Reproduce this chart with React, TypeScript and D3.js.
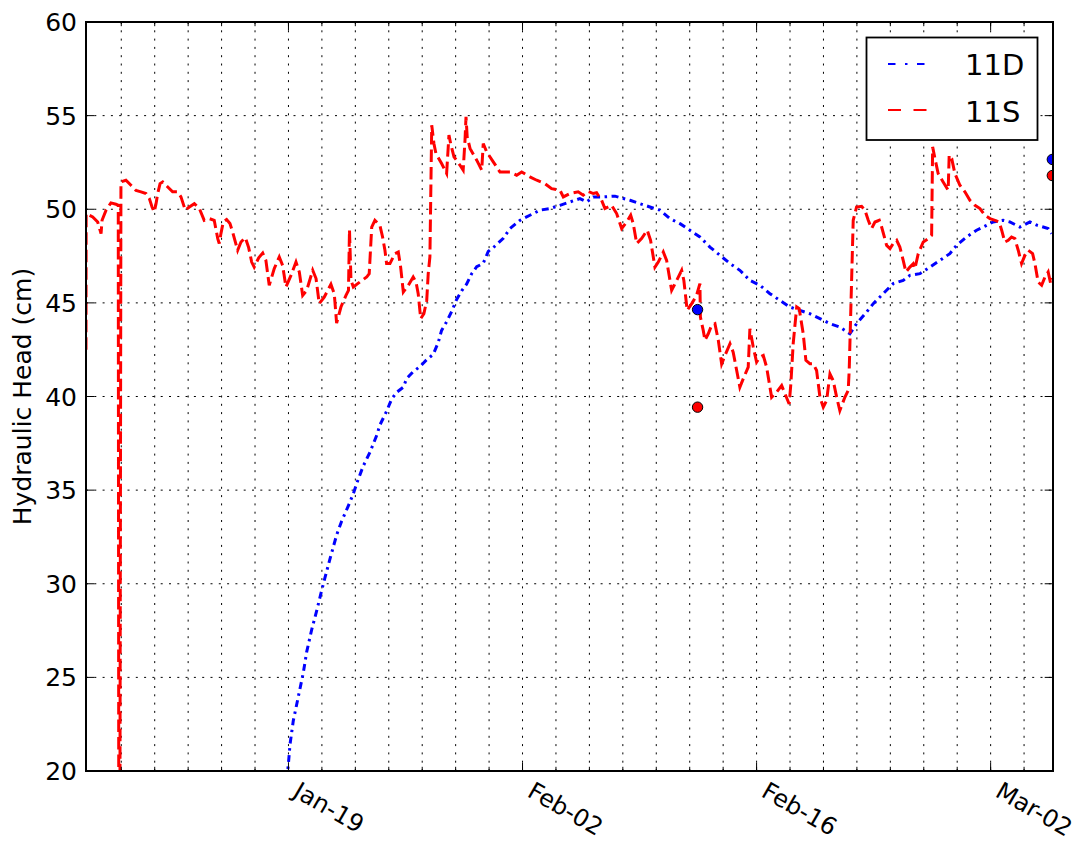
import React from 'react';
import * as d3 from 'd3';

// times are day offsets from Jan 1 (0 = Jan-01), heads in cm
const YEAR = 2015;
const X_START_DAY = 5.89;
const X_END_DAY = 63.73;

const series11D: [number, number][] = [
  [17.88, 19.5], [17.99, 20.3], [18.09, 21.4], [18.29, 22.69], [18.59, 23.97], [18.89, 25.26],
  [19.09, 26.36], [19.39, 27.55], [19.69, 28.56], [19.99, 29.66], [20.18, 30.31], [20.48, 31.32],
  [20.88, 32.6], [21.18, 33.34], [21.58, 34.16], [21.88, 34.81], [22.12, 35.45], [22.47, 36.28],
  [22.87, 37.01], [23.28, 37.93], [23.47, 38.48], [23.87, 39.21], [24.17, 39.86], [24.47, 40.22],
  [24.87, 40.5], [25.07, 40.96], [25.46, 41.33], [25.87, 41.6], [26.27, 41.97], [26.66, 42.25],
  [26.96, 42.89], [27.16, 43.53], [27.46, 43.99], [27.76, 44.54], [28.06, 45.18], [28.36, 45.64],
  [28.66, 46.01], [28.96, 46.56], [29.26, 46.93], [29.65, 47.11], [29.95, 47.75], [30.35, 48.03],
  [30.85, 48.45], [31.25, 48.97], [31.85, 49.41], [32.44, 49.68], [33.04, 49.95], [33.64, 50.04],
  [34.24, 50.21], [34.84, 50.39], [35.43, 50.57], [35.84, 50.39], [36.23, 50.66], [36.83, 50.66],
  [37.53, 50.7], [38.43, 50.48], [39.02, 50.3], [39.62, 50.12], [40.22, 49.95], [40.82, 49.5],
  [41.42, 49.23], [42.01, 48.88], [42.61, 48.52], [43.21, 47.98], [43.81, 47.54], [44.41, 47.1],
  [45.0, 46.74], [45.6, 46.2], [46.2, 45.94], [46.8, 45.49], [47.4, 45.13], [47.99, 44.78],
  [48.59, 44.6], [49.19, 44.42], [49.79, 44.16], [50.39, 43.89], [50.98, 43.71], [51.58, 43.35],
  [51.98, 43.89], [52.58, 44.51], [52.98, 44.96], [53.57, 45.49], [54.17, 46.03], [54.77, 46.2],
  [55.17, 46.47], [55.77, 46.56], [56.37, 46.91], [56.97, 47.27], [57.56, 47.63], [57.96, 48.07],
  [58.56, 48.52], [59.16, 48.88], [59.56, 49.05], [60.15, 49.32], [60.75, 49.41], [61.15, 49.32],
  [61.75, 49.05], [62.35, 49.32], [62.8, 49.14], [63.14, 49.05], [63.44, 48.97], [63.65, 48.7],
];

const series11S: [number, number][] = [
  [5.89, 42.5], [5.9, 49.77], [6.29, 49.59], [6.59, 49.32], [6.79, 48.7], [6.85, 49.41],
  [7.09, 49.95], [7.38, 50.34], [7.68, 50.27], [7.82, 50.21], [7.85, 18], [7.92, 18],
  [7.98, 51.46], [8.28, 51.55], [8.58, 51.28], [8.88, 51.0], [9.18, 50.93], [9.48, 50.84],
  [9.68, 50.57], [9.84, 50.12], [9.97, 49.86], [10.08, 50.3], [10.18, 50.84], [10.32, 51.37],
  [10.48, 51.46], [10.78, 51.19], [11.07, 50.93], [11.37, 50.93], [11.57, 50.66], [11.83, 49.95],
  [12.07, 50.12], [12.37, 50.3], [12.67, 50.04], [12.96, 49.41], [13.26, 49.5], [13.56, 49.41],
  [13.77, 48.43], [13.86, 48.17], [13.96, 48.7], [14.1, 49.32], [14.3, 49.45], [14.5, 49.24],
  [14.66, 48.79], [14.96, 47.81], [15.16, 48.25], [15.42, 48.49], [15.62, 47.95], [15.8, 47.18],
  [15.95, 46.91], [16.22, 47.41], [16.46, 47.66], [16.65, 47.27], [16.85, 45.94], [17.15, 46.83],
  [17.45, 47.45], [17.65, 47.0], [17.85, 45.85], [18.15, 46.47], [18.45, 47.18], [18.65, 46.65],
  [18.85, 45.4], [19.09, 45.67], [19.45, 46.74], [19.65, 46.3], [19.84, 44.96], [20.14, 45.31],
  [20.54, 45.99], [20.74, 45.49], [20.88, 43.92], [21.14, 44.78], [21.44, 45.4], [21.59, 45.67],
  [21.65, 48.9], [21.74, 46.2], [21.88, 45.85], [22.16, 46.04], [22.4, 46.2], [22.68, 46.38],
  [22.83, 46.56], [22.98, 49.05], [23.17, 49.41], [23.47, 49.14], [23.63, 48.52], [23.77, 47.81],
  [23.87, 47.1], [24.07, 47.1], [24.37, 47.63], [24.57, 47.72], [24.71, 46.91], [24.87, 45.58],
  [25.17, 45.94], [25.46, 46.38], [25.63, 46.11], [25.76, 45.49], [25.91, 44.16], [26.1, 44.42],
  [26.27, 45.13], [26.36, 46.56], [26.46, 47.45], [26.57, 54.49], [26.7, 53.51], [26.82, 52.98],
  [27.16, 52.44], [27.46, 51.91], [27.6, 53.96], [27.7, 53.51], [27.9, 52.8], [28.26, 52.35],
  [28.45, 52.09], [28.56, 53.69], [28.62, 54.94], [28.69, 53.87], [28.86, 53.25], [29.26, 52.62],
  [29.56, 52.09], [29.65, 53.51], [29.85, 53.07], [30.25, 52.53], [30.65, 51.99], [31.25, 51.99],
  [31.65, 51.82], [31.95, 51.99], [32.44, 51.73], [32.85, 51.55], [33.34, 51.37], [33.74, 51.1],
  [34.24, 51.02], [34.44, 50.66], [34.84, 50.84], [35.33, 50.93], [35.63, 50.75], [35.93, 50.95],
  [36.23, 50.84], [36.43, 50.88], [36.73, 50.48], [36.93, 50.04], [37.33, 50.21], [37.63, 49.77],
  [37.93, 48.97], [38.23, 49.32], [38.47, 49.68], [38.62, 49.24], [38.83, 48.17], [39.12, 48.43],
  [39.46, 48.88], [39.66, 48.34], [39.92, 46.91], [40.12, 47.18], [40.42, 47.72], [40.62, 47.27],
  [40.92, 45.67], [41.22, 46.2], [41.52, 46.74], [41.65, 46.2], [41.85, 44.6], [42.12, 44.96],
  [42.41, 45.4], [42.61, 46.03], [42.64, 44.24], [42.81, 43.53], [42.91, 43.0], [43.11, 43.35],
  [43.31, 43.8], [43.51, 43.89], [43.71, 43.0], [43.91, 41.74], [44.11, 42.19], [44.41, 42.82],
  [44.6, 42.37], [44.81, 41.39], [45.0, 40.5], [45.24, 41.03], [45.5, 41.57], [45.6, 43.62],
  [45.8, 42.64], [46.0, 41.84], [46.2, 42.1], [46.4, 42.19], [46.6, 41.57], [46.9, 39.96],
  [47.2, 40.23], [47.5, 40.59], [47.7, 40.14], [47.95, 39.6], [48.05, 40.68], [48.19, 42.82],
  [48.4, 44.78], [48.55, 44.69], [48.79, 43.35], [48.95, 41.93], [49.19, 41.75], [49.39, 41.75],
  [49.59, 41.39], [49.79, 39.96], [49.99, 39.43], [50.19, 39.79], [50.39, 41.21], [50.58, 40.86],
  [50.79, 39.96], [50.98, 39.25], [51.28, 39.96], [51.48, 40.32], [51.54, 41.39], [51.78, 49.41],
  [51.98, 50.12], [52.28, 50.16], [52.48, 49.95], [52.68, 49.41], [52.88, 48.97], [53.08, 49.32],
  [53.34, 49.41], [53.48, 49.05], [53.78, 48.07], [53.98, 47.9], [54.17, 48.17], [54.38, 48.34],
  [54.57, 47.98], [54.77, 47.27], [54.93, 46.65], [55.17, 46.91], [55.37, 47.09], [55.47, 46.83],
  [55.67, 47.63], [55.97, 48.25], [56.27, 48.43], [56.47, 48.61], [56.53, 53.33], [56.67, 52.71],
  [56.86, 51.91], [57.16, 51.46], [57.46, 51.02], [57.52, 52.89], [57.67, 52.71], [57.86, 51.91],
  [58.16, 51.28], [58.46, 50.93], [58.76, 50.48], [59.06, 50.21], [59.36, 50.04], [59.66, 49.68],
  [59.96, 49.5], [60.26, 49.41], [60.51, 49.32], [60.66, 48.88], [60.85, 48.25], [61.05, 48.34],
  [61.25, 48.52], [61.45, 48.43], [61.65, 47.81], [61.85, 47.1], [62.05, 47.54], [62.25, 47.81],
  [62.51, 47.63], [62.65, 47.1], [62.84, 46.11], [63.05, 45.94], [63.25, 46.38], [63.44, 46.65],
  [63.59, 46.03], [63.71, 46.31],
];

// manual readings (dots)
const manual11D: [number, number][] = [[42.47, 44.64], [63.69, 52.66]];
const manual11S: [number, number][] = [[42.47, 39.43], [63.69, 51.8]];

const majorTickLabels = ['Jan-19', 'Feb-02', 'Feb-16', 'Mar-02'];
const yTicks = [20, 25, 30, 35, 40, 45, 50, 55, 60];

const toDate = (day: number) => new Date(Date.UTC(YEAR, 0, 1) + day * 86400000);

const W = 1079, H = 844;
const L = 86, R = 1053, T = 22, B = 771;
const FONT = "'DejaVu Sans', sans-serif";

export default function App() {
  const x = d3.scaleUtc().domain([toDate(X_START_DAY), toDate(X_END_DAY)]).range([L, R]);
  const y = d3.scaleLinear().domain([20, 60]).range([B, T]);

  const parseTick = d3.utcParse('%b-%d %Y');
  const majors = majorTickLabels.map(s => ({ label: s, date: parseTick(s + ' ' + YEAR) as Date }));
  // minor ticks every second day
  const minors = d3.utcDay
    .range(toDate(X_START_DAY), toDate(X_END_DAY))
    .filter(d => d3.utcDay.count(d3.utcYear(d), d) % 2 === 0)
    .map(d => x(d))
    .filter(px => px > L + 3 && px < R - 3);

  const line = d3.line<[number, number]>()
    .x(d => x(toDate(d[0])))
    .y(d => y(d[1]));

  return (
    <svg width={W} height={H} style={{ position: 'absolute', left: 0, top: 0, background: '#fff' }}
      fontFamily={FONT}>
      <defs>
        <clipPath id="plotclip">
          <rect x={L} y={T} width={R - L} height={B - T} />
        </clipPath>
      </defs>
      <rect x={0} y={0} width={W} height={H} fill="#fff" />

      {/* grid */}
      <g stroke="#000" strokeWidth={1} strokeDasharray="2 6.3" fill="none">
        {minors.map((px, i) => <line key={'gv' + i} x1={px} x2={px} y1={T} y2={B} />)}
        {yTicks.filter(v => v > 20 && v < 60).map(v => (
          <line key={'gh' + v} x1={L} x2={R} y1={y(v)} y2={y(v)} />
        ))}
      </g>

      <g clipPath="url(#plotclip)">
        <path d={line(series11D) || ''} fill="none" stroke="#0000ff" strokeWidth={3}
          strokeDasharray="7 4.5 2.5 4.5" />
        <path d={line(series11S) || ''} fill="none" stroke="#ff0000" strokeWidth={3}
          strokeDasharray="12.5 5" />
        {manual11D.map((d, i) => (
          <circle key={'bd' + i} cx={x(toDate(d[0]))} cy={y(d[1])} r={5.2} fill="#0000ff" stroke="#000" strokeWidth={1} />
        ))}
        {manual11S.map((d, i) => (
          <circle key={'rd' + i} cx={x(toDate(d[0]))} cy={y(d[1])} r={5.2} fill="#ff0000" stroke="#000" strokeWidth={1} />
        ))}
      </g>

      {/* ticks */}
      <g stroke="#000" strokeWidth={1}>
        {minors.map((px, i) => (
          <g key={'mt' + i}>
            <line x1={px} x2={px} y1={B} y2={B - 4.2} />
            <line x1={px} x2={px} y1={T} y2={T + 4.2} />
          </g>
        ))}
        {majors.map(m => (
          <g key={'Mt' + m.label}>
            <line x1={x(m.date)} x2={x(m.date)} y1={B} y2={B - 8.3} />
            <line x1={x(m.date)} x2={x(m.date)} y1={T} y2={T + 8.3} />
          </g>
        ))}
        {yTicks.map(v => (
          <g key={'yt' + v}>
            <line x1={L} x2={L + 8.3} y1={y(v)} y2={y(v)} />
            <line x1={R} x2={R - 8.3} y1={y(v)} y2={y(v)} />
          </g>
        ))}
      </g>

      <rect x={L} y={T} width={R - L} height={B - T} fill="none" stroke="#000" strokeWidth={2} />

      {/* tick labels */}
      <g fill="#000">
        {yTicks.map(v => (
          <text key={'yl' + v} x={L - 9} y={y(v)} dy="0.36em" textAnchor="end" fontSize={25}>{v}</text>
        ))}
        {majors.map(m => (
          <text key={'xl' + m.label} transform={`translate(${x(m.date) + 13},${B + 8}) rotate(30)`}
            dy="0.8em" textAnchor="start" fontSize={24}>{m.label}</text>
        ))}
      </g>

      <text transform={`translate(31,${(T + B) / 2}) rotate(-90)`} textAnchor="middle" fontSize={25}>
        Hydraulic Head (cm)
      </text>

      {/* legend */}
      <g>
        <rect x={866.5} y={37.5} width={171} height={102.5} fill="#fff" stroke="#000" strokeWidth={1.8} />
        <line x1={888} x2={928} y1={64} y2={64} stroke="#0000ff" strokeWidth={2.2} strokeDasharray="7.5 9.5 2.5 9.5" />
        <text x={965} y={75} fontSize={29}>11D</text>
        <line x1={888} x2={928} y1={110} y2={110} stroke="#ff0000" strokeWidth={2.2} strokeDasharray="13 12.5" />
        <text x={965} y={121.5} fontSize={29}>11S</text>
      </g>
    </svg>
  );
}
